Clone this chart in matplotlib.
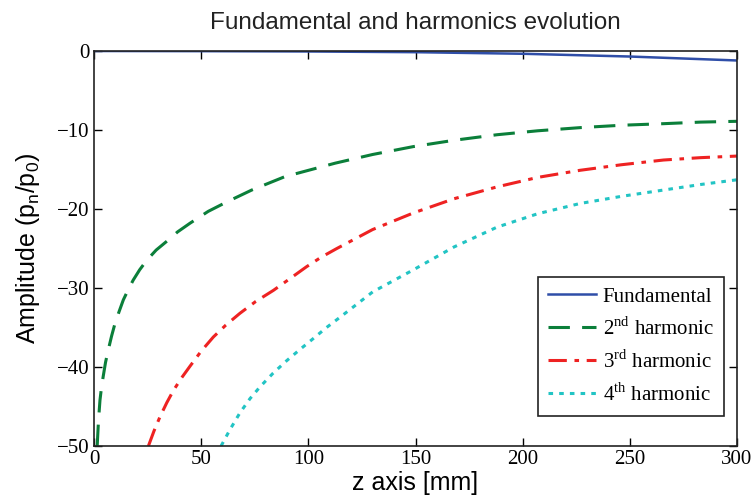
import matplotlib.pyplot as plt

# values
z_fund = [0, 50, 100, 150, 200, 250, 300]
fund = [0, -0.02, -0.06, -0.15, -0.35, -0.7, -1.2]

z_h2 = [1.5, 2.1, 2.8, 3.5, 4.3, 5.4, 6.7, 8.2, 9.8, 11.7, 13.7, 16, 18.3, 21.3, 24.6,
        29, 33.9, 39, 44.8, 53.3, 62, 73.6, 89.1, 112.5, 130, 149, 168, 188, 207,
        226.8, 246, 265.7, 283, 300]
h2 = [-50, -46.8, -44.2, -42.6, -41.2, -39.4, -37.8, -36.1, -34.5, -33, -31.5, -30.2,
      -29, -27.7, -26.5, -25.2, -24.1, -22.9, -21.8, -20.3, -19.1, -17.6, -15.9,
      -14.2, -13.1, -12.1, -11.3, -10.6, -10.1, -9.7, -9.4, -9.2, -9.0, -8.9]

z_h3 = [25.4, 28, 30.8, 34, 37, 40.8, 44.8, 50, 55.7, 61.5, 68.1, 75.5, 83.7, 91.5,
        99.2, 106, 113.3, 130, 149, 168, 188, 207, 226.8, 246, 265.7, 283, 300]
h3 = [-50, -48.1, -46.3, -44.5, -43.0, -41.4, -39.9, -38.0, -36.2, -34.7, -33.2,
      -31.7, -30.3, -28.8, -27.3, -26.1, -25, -22.6, -20.5, -18.7, -17.2, -16,
      -15.1, -14.4, -13.8, -13.5, -13.3]

z_h4 = [59.3, 63.5, 68.1, 72.8, 77.5, 83.5, 89.9, 96, 102.3, 108.5, 114.8, 130, 149,
        168, 188, 207, 226.8, 246, 265.7, 283, 300]
h4 = [-50, -47.9, -45.8, -44.0, -42.5, -40.8, -39.2, -37.8, -36.4, -35.0, -33.7, -30.5,
      -27.7, -24.8, -22.3, -20.6, -19.3, -18.4, -17.6, -16.9, -16.3]

labels = ['Fundamental', r'2$^{\rm nd}$ harmonic', r'3$^{\rm rd}$ harmonic',
          r'4$^{\rm th}$ harmonic']

plt.rcParams['mathtext.fontset'] = 'custom'
plt.rcParams['mathtext.rm'] = 'Liberation Serif'
plt.rcParams['mathtext.sf'] = 'Liberation Sans'

fig = plt.figure(figsize=(7.53, 5), dpi=100)
ax = fig.add_axes([0.1248, 0.108, 0.854, 0.79])

ax.plot(z_fund, fund, color='#2f4ea8', lw=1.8, label=labels[0])
ax.plot(z_h2, h2, color='#0b7f3a', lw=2.2, dashes=(7, 4), label=labels[1])
ax.plot(z_h3, h3, color='#ee2222', lw=2.2, dashes=(6, 2.5, 1.5, 2.5), label=labels[2])
ax.plot(z_h4, h4, color='#22c4c4', lw=2.2, dashes=(1.5, 2), label=labels[3])

ax.set_xlim(0, 300)
ax.set_ylim(-50, 0)
ax.set_xticks([0, 50, 100, 150, 200, 250, 300])
ax.set_yticks([-50, -40, -30, -20, -10, 0])
ax.tick_params(direction='in', length=6, width=1, top=True, right=True,
               labelsize=15, pad=3, labelfontfamily='Liberation Serif')
for s in ax.spines.values():
    s.set_linewidth(1.2)
    s.set_color('#222222')

ax.set_title('Fundamental and harmonics evolution', family='Liberation Sans',
             fontsize=17.5, pad=16, color='#222222')
ax.set_xlabel('z axis [mm]', family='Liberation Sans', fontsize=18, labelpad=1)
ax.set_ylabel(r'Amplitude (p$_{\mathsf{n}}$/p$_{\mathsf{0}}$)', family='Liberation Sans',
              fontsize=18, labelpad=11)

leg = ax.legend(loc='lower right', bbox_to_anchor=(0.980, 0.076), fancybox=False,
                edgecolor='#222222', framealpha=1, handlelength=2.3,
                prop={'family': 'Liberation Serif', 'size': 15},
                borderpad=0.5, labelspacing=0.5, handletextpad=0.3, borderaxespad=0)
leg.get_frame().set_linewidth(1.2)

fig.savefig('out.png', dpi=100)
